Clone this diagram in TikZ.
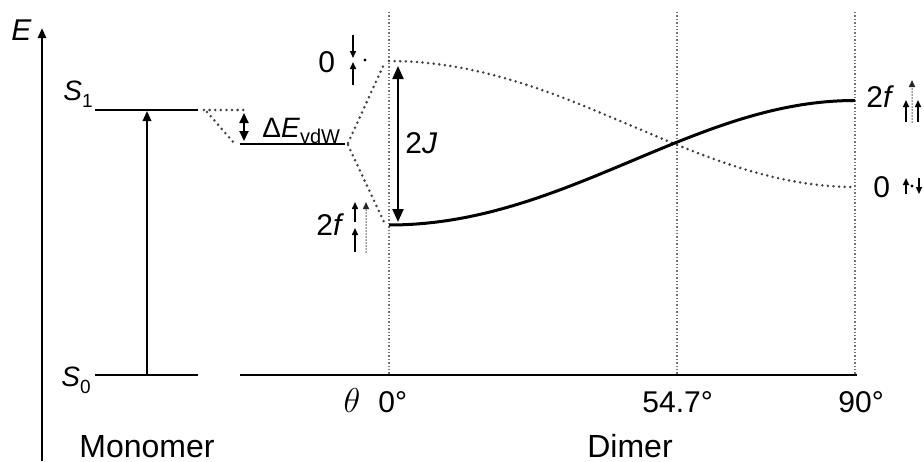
\documentclass[tikz,border=0pt]{standalone}
\usepackage{fontspec}
\setmainfont{Liberation Sans}
\usetikzlibrary{arrows.meta}

\newcommand{\lowsub}[1]{\raisebox{-0.5ex}{\fontsize{9.5}{10}\selectfont #1}}

\begin{document}
\begin{tikzpicture}[x=0.5pt, y=-0.5pt,
  level/.style={line width=1.3pt},
  curve/.style={line width=1.5pt},
  guide/.style={black!55, line width=0.7pt, dash pattern=on 0.7pt off 1pt},
  corr/.style={black!75, line width=1.4pt, line cap=round, dash pattern=on 0pt off 2.8pt},
  bigarr/.style={-{Triangle[length=5pt, width=4.2pt]}, line width=1pt},
  duoarr/.style={{Triangle[length=5pt, width=4.5pt]}-{Triangle[length=5pt, width=4.5pt]}, line width=1pt},
  jarr/.style={{Triangle[length=6.5pt, width=5.5pt]}-{Triangle[length=6.5pt, width=5.5pt]}, line width=1.1pt},
  spin/.style={-{Triangle[length=3.5pt, width=3pt]}, line width=0.75pt},
  sumspin/.style={spin, black!85, line cap=round, dash pattern=on 0pt off 1.5pt},
  lbl/.style={font=\fontsize{15}{17}\selectfont, inner sep=0pt},
  axlbl/.style={font=\fontsize{15}{17}\selectfont, inner sep=0pt, anchor=base west},
  title/.style={font=\fontsize{16}{18}\selectfont, inner sep=0pt, anchor=base}
]
\useasboundingbox (0,0) rectangle (924,461);

% energy axis
\coordinate (ax0) at (42,461);
\coordinate (ax1) at (42,28);
\draw[line width=1.3pt, -{Triangle[length=5pt, width=4pt]}] (ax0) -- (ax1);
\node[lbl, font=\fontsize{15}{17}\selectfont, anchor=base west] (elbl) at (11,40) {\textit{E}};

% monomer levels
\coordinate (s1a) at (95,110);
\coordinate (s1b) at (198,110);
\coordinate (s0a) at (95,375);
\coordinate (s0b) at (198,375);
\draw[level] (s1a) -- (s1b);
\draw[level] (s0a) -- (s0b);
\node[lbl, font=\fontsize{14}{16}\selectfont, anchor=base west] (s1lbl) at (63,100) {\textit{S}\lowsub{1}};
\node[lbl, font=\fontsize{14}{16}\selectfont, anchor=base west] (s0lbl) at (61,386) {\textit{S}\lowsub{0}};
\coordinate (exc0) at (147,375);
\coordinate (exc1) at (147,111);
\draw[bigarr] (exc0) -- (exc1);

% van der Waals shift
\coordinate (va) at (240,144);
\coordinate (vb) at (345,144);
\draw[level] (va) -- (vb);
\draw[corr] (204,110) -- (247,110);
\draw[corr] (207,112) -- (234,143);
\coordinate (vdw0) at (244,113);
\coordinate (vdw1) at (244,141);
\draw[duoarr] (vdw0) -- (vdw1);
\node[lbl, font=\fontsize{14}{16}\selectfont, anchor=base west] (vdwlbl) at (262,137)
  {Δ\textit{E}\raisebox{-0.45ex}{\fontsize{10}{11}\selectfont vdW}};

% dimer splitting
\draw[corr] (348,143) -- (385,62);
\draw[corr] (348,145) -- (384,222);
\coordinate (da) at (240,375);
\coordinate (db) at (857,375);
\draw[level] (da) -- (db);
\foreach \gx in {389, 677, 855}
  \draw[guide] (\gx,12) -- (\gx,375);

\draw[corr] plot[domain=0:90, samples=61, smooth] ({389+5.1778*\x+5.3*sin(2*\x)}, {145+42*(1-3*cos(\x)^2)});
\draw[curve] plot[domain=0:90, samples=61, smooth] ({389+5.1778*\x+5.3*sin(2*\x)}, {142-41.5*(1-3*cos(\x)^2)});

\coordinate (j0) at (398,66);
\coordinate (j1) at (398,222);
\draw[jarr] (j0) -- (j1);
\node[lbl, anchor=base west] (jlbl) at (405,153) {2\textit{J}};

% dipole sketches
\node[lbl, anchor=base west] (top0) at (318,72) {0};
\draw[spin] (353,35) -- (353,58);
\draw[spin] (353,85) -- (353,62);
\fill (365,60) circle[radius=0.8pt];

\node[lbl, anchor=base west] (low2f) at (316,235) {2\textit{f}};
\draw[spin] (355,222) -- (355,202);
\draw[spin] (355,252) -- (355,228);
\draw[sumspin] (366,252) -- (366,202);

\node[lbl, anchor=base west] (hi2f) at (866,107) {2\textit{f}};
\draw[spin] (906,122) -- (906,100);
\draw[spin] (918,122) -- (918,100);
\draw[sumspin] (912,122) -- (912,80);

\node[lbl, anchor=base west] (mid0) at (873,197) {0};
\draw[spin] (906,194) -- (906,178);
\draw[spin] (919,178) -- (919,194);
\fill (912,186) circle[radius=0.8pt];

% axis labels
\node[axlbl, anchor=base, font=\fontsize{16}{18}\selectfont] (thlbl) at (352,412) {$\theta$};
\node[axlbl] (t0lbl) at (378,412) {0°};
\node[axlbl] (t1lbl) at (642,412) {54.7°};
\node[axlbl] (t2lbl) at (838,412) {90°};
\node[title] (monlbl) at (147,457) {Monomer};
\node[title] (dimlbl) at (630,457) {Dimer};

\end{tikzpicture}
\end{document}
